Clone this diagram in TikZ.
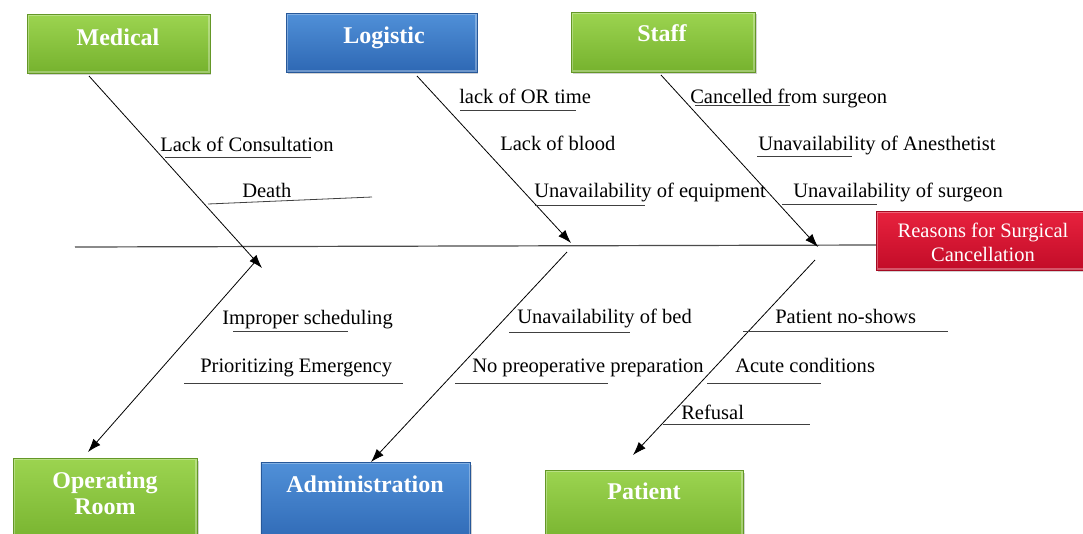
\documentclass[tikz,border=0pt]{standalone}
\usepackage{fontspec}
\setmainfont{Liberation Serif}
\usetikzlibrary{arrows.meta,positioning,shadows}

\definecolor{leaf}{RGB}{156,212,80}
\definecolor{leafdark}{RGB}{118,178,46}
\definecolor{sea}{RGB}{80,144,216}
\definecolor{seadark}{RGB}{46,104,180}
\definecolor{rose}{RGB}{232,34,62}
\definecolor{rosedark}{RGB}{194,12,40}

\begin{document}
\begin{tikzpicture}[
        x=0.75pt,
        y=-0.75pt,
        catbox/.style={rectangle, inner sep=0pt, line width=0.5pt,
            drop shadow={shadow xshift=1.2pt, shadow yshift=-1.8pt, opacity=0.35},
            path picture={\draw[white, opacity=0.3, line width=2.4pt]
                (path picture bounding box.south west) rectangle (path picture bounding box.north east);}},
        greenbox/.style={catbox, top color=leaf, bottom color=leafdark, draw=leafdark!85!black},
        bluebox/.style={catbox, top color=sea, bottom color=seadark, draw=seadark!85!black},
        redbox/.style={catbox, top color=rose, bottom color=rosedark, draw=rosedark!85!black},
        head/.style={text=white, font=\fontsize{18}{19.5}\selectfont\bfseries, align=center},
        cause/.style={font=\fontsize{15.4}{18}\selectfont, anchor=base west, inner sep=0pt},
        bone/.style={->, line width=0.6pt},
        tick/.style={line width=0.6pt, black!75},
        spine/.style={line width=0.9pt, black!70},
        >={Latex[length=10pt,width=7pt]}
    ]
        \path[use as bounding box, fill=white] (0,0) rectangle (1083,533);

        % backbone, drawn first so the effect box sits on it
        \coordinate (tail) at (75,247);
        \coordinate (spineend) at (877,245);
        \draw[spine] (tail) -- (spineend);
        \node[redbox, minimum width=160pt, minimum height=44pt] (effect) at (983,240.5) {};
        \node[head, font=\fontsize{15.4}{18}\selectfont] (effectt) at (983,242) {Reasons for Surgical\\Cancellation};

        % category boxes, top row
        \node[greenbox, minimum width=137pt, minimum height=44pt] (medical) at (118.5,43.5) {};
        \node[head] (medicalt) at (118,37) {Medical};
        \node[bluebox, minimum width=143pt, minimum height=44pt] (logistic) at (381.5,42.5) {};
        \node[head] (logistict) at (384,37.5) {Logistic};
        \node[greenbox, minimum width=138pt, minimum height=45pt] (staff) at (663,42) {};
        \node[head] (stafft) at (662,33) {Staff};

        % category boxes, bottom row (run off the lower edge)
        \node[greenbox, minimum width=138pt, minimum height=65pt] (oproom) at (105,501.5) {};
        \node[head] (oproomt) at (105,493) {Operating\\Room};
        \node[bluebox, minimum width=157pt, minimum height=62pt] (admin) at (365.5,504) {};
        \node[head] (admint) at (365,484) {Administration};
        \node[greenbox, minimum width=148.5pt, minimum height=56pt] (patient) at (644,507.5) {};
        \node[head] (patientt) at (644,491) {Patient};

        % bones
        \coordinate (medA) at (89,76);    \coordinate (medB) at (262,268);
        \coordinate (logA) at (417,76);   \coordinate (logB) at (571,243);
        \coordinate (stfA) at (661,75);   \coordinate (stfB) at (818,247);
        \coordinate (orA) at (255,262);   \coordinate (orB) at (88,452);
        \coordinate (admA) at (567,252);  \coordinate (admB) at (371,462);
        \coordinate (patA) at (815,260);  \coordinate (patB) at (633,455);
        \draw[bone] (medA) -- (medB);
        \draw[bone] (logA) -- (logB);
        \draw[bone] (stfA) -- (stfB);
        \draw[bone] (orA) -- (orB);
        \draw[bone] (admA) -- (admB);
        \draw[bone] (patA) -- (patB);

        % medical causes
        \node[cause] (consult) at (160,151) {Lack of Consultation};
        \draw[tick] (165,157) -- (311,157);
        \node[cause] (death) at (242,197) {Death};
        \draw[tick] (208,204) -- (372,197);

        % logistic causes
        \node[cause] (ortime) at (459,103) {lack of OR time};
        \draw[tick] (460,110) -- (576,110);
        \node[cause] (blood) at (500,150) {Lack of blood};
        \node[cause] (equip) at (534,197) {Unavailability of equipment};
        \draw[tick] (535,205) -- (645,205);

        % staff causes
        \node[cause] (surgcanc) at (690,103) {Cancelled from surgeon};
        \draw[tick] (695,105) -- (790,105);
        \node[cause] (anest) at (758,150) {Unavailability of Anesthetist};
        \draw[tick] (757,156) -- (852,156);
        \node[cause] (surgeon) at (793,197) {Unavailability of surgeon};
        \draw[tick] (782,204) -- (877,204);

        % operating room causes
        \node[cause] (sched) at (222,324) {Improper scheduling};
        \draw[tick] (233,331) -- (348,331);
        \node[cause] (emerg) at (200,372) {Prioritizing Emergency};
        \draw[tick] (184,383) -- (403,383);

        % administration causes
        \node[cause] (bed) at (517,323) {Unavailability of bed};
        \draw[tick] (509,332) -- (630,332);
        \node[cause] (preop) at (472,372) {No preoperative preparation};
        \draw[tick] (455,383) -- (608,383);

        % patient causes
        \node[cause] (noshow) at (775,323) {Patient no-shows};
        \draw[tick] (743,331) -- (948,331);
        \node[cause] (acute) at (735,372) {Acute conditions};
        \draw[tick] (707,383) -- (821,383);
        \node[cause] (refuse) at (681,419) {Refusal};
        \draw[tick] (663,424) -- (810,424);
    \end{tikzpicture}
\end{document}
